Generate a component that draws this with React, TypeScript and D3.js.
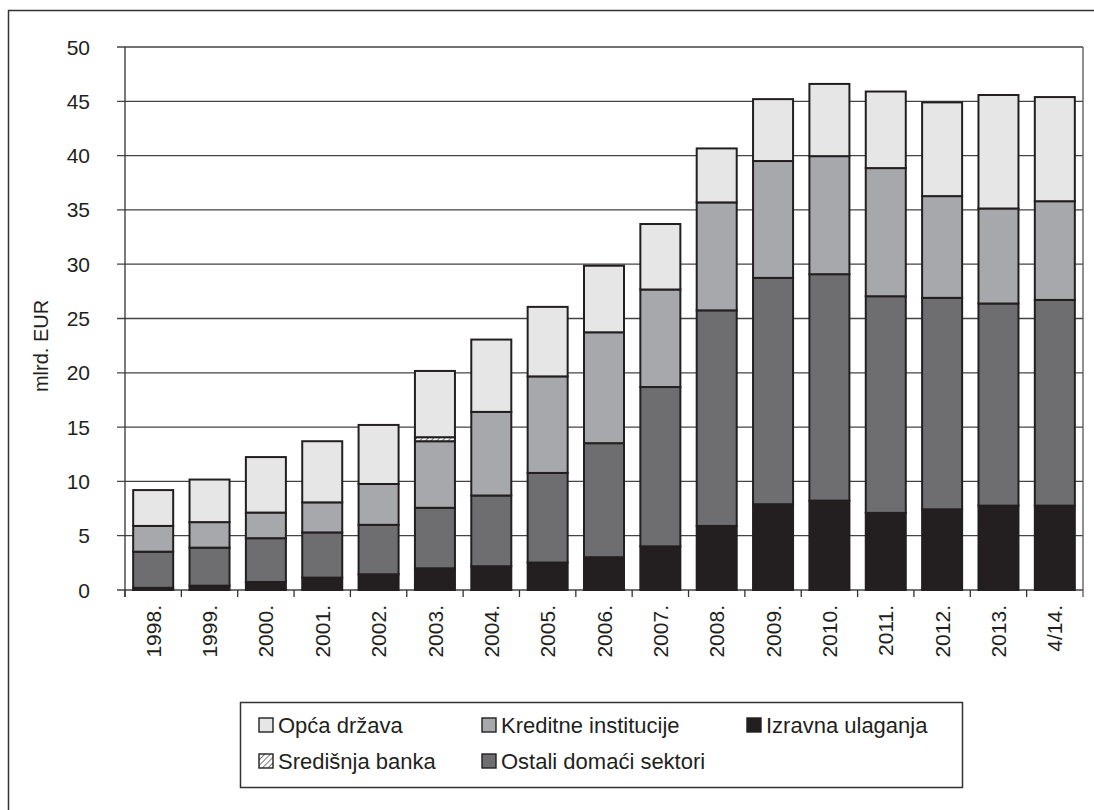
import React from "react";
import * as d3 from "d3";

const categories = ["1998.", "1999.", "2000.", "2001.", "2002.", "2003.", "2004.", "2005.", "2006.", "2007.", "2008.", "2009.", "2010.", "2011.", "2012.", "2013.", "4/14."];
const izravnaUlaganja = [0.2, 0.4, 0.74, 1.14, 1.45, 2.0, 2.19, 2.53, 3.02, 4.02, 5.9, 7.9, 8.23, 7.1, 7.43, 7.77, 7.77];
const ostaliDomaci = [3.33, 3.5, 4.03, 4.16, 4.55, 5.57, 6.51, 8.25, 10.5, 14.67, 19.85, 20.84, 20.85, 19.95, 19.47, 18.61, 18.94];
const kreditneInstitucije = [2.37, 2.35, 2.36, 2.77, 3.76, 6.13, 7.7, 8.89, 10.21, 8.98, 9.94, 10.76, 10.87, 11.8, 9.37, 8.75, 9.09];
const sredisnjaBanka = [0, 0, 0, 0, 0, 0.37, 0, 0, 0, 0, 0, 0, 0, 0, 0, 0, 0];
const opcaDrzava = [3.3, 3.92, 5.11, 5.63, 5.44, 6.1, 6.66, 6.4, 6.13, 6.03, 4.97, 5.7, 6.65, 7.05, 8.63, 10.45, 9.59];
const yTicks = [0, 5, 10, 15, 20, 25, 30, 35, 40, 45, 50];

const seriesKeys = ["izravna", "ostali", "kreditne", "sredisnja", "opca"];
const seriesFill: Record<string, string> = {
  izravna: "#231f20",
  ostali: "#6e6e70",
  kreditne: "#a7a8ab",
  sredisnja: "url(#hatch)",
  opca: "#e6e6e6",
};

const legendItems = [
  { key: "opca", label: "Opća država", x: 259, row: 0 },
  { key: "kreditne", label: "Kreditne institucije", x: 482, row: 0 },
  { key: "izravna", label: "Izravna ulaganja", x: 747, row: 0 },
  { key: "sredisnja", label: "Središnja banka", x: 259, row: 1 },
  { key: "ostali", label: "Ostali domaći sektori", x: 482, row: 1 },
];

export default function App() {
  const left = 125, right = 1083, top = 47, bottom = 590;
  const rows = categories.map((c, i) => ({
    cat: c,
    izravna: izravnaUlaganja[i],
    ostali: ostaliDomaci[i],
    kreditne: kreditneInstitucije[i],
    sredisnja: sredisnjaBanka[i],
    opca: opcaDrzava[i],
  }));
  const stack = d3.stack<any>().keys(seriesKeys);
  const stacked = stack(rows);
  const x = d3.scaleBand<string>().domain(categories).range([left, right]).paddingInner(0.29).paddingOuter(0.145);
  const y = d3.scaleLinear().domain([0, 50]).range([bottom, top]);
  const step = (right - left) / categories.length;
  const font = "'Liberation Sans', Arial, sans-serif";

  return (
    <svg width={1094} height={810} style={{ position: "absolute", left: 0, top: 0, background: "#fff" }}>
      <defs>
        <pattern id="hatch" patternUnits="userSpaceOnUse" width={4} height={4} patternTransform="rotate(45)">
          <rect width={4} height={4} fill="#fff" />
          <line x1={0} y1={0} x2={0} y2={4} stroke="#231f20" strokeWidth={1.2} />
        </pattern>
      </defs>
      {/* outer frame */}
      <line x1={8} y1={10.5} x2={1094} y2={10.5} stroke="#333" strokeWidth={1.5} />
      <line x1={8.5} y1={10} x2={8.5} y2={810} stroke="#333" strokeWidth={1.5} />

      {/* gridlines */}
      {yTicks.map((t) => (
        <line key={t} x1={left - 8} x2={right} y1={y(t)} y2={y(t)} stroke="#444" strokeWidth={1.3} />
      ))}
      <line x1={right} x2={right} y1={top} y2={bottom + 7} stroke="#555" strokeWidth={1.3} />
      <line x1={left} x2={left} y1={top} y2={bottom + 7} stroke="#333" strokeWidth={1.3} />
      {categories.map((c, i) => (
        <line key={c} x1={left + step * i} x2={left + step * i} y1={bottom} y2={bottom + 7} stroke="#333" strokeWidth={1.3} />
      ))}

      {/* bars */}
      {stacked.map((s) => (
        <g key={s.key}>
          {s.map((d, i) => {
            const h = y(d[0]) - y(d[1]);
            if (h <= 0) return null;
            return (
              <rect
                key={i}
                x={x(categories[i])}
                y={y(d[1])}
                width={x.bandwidth()}
                height={h}
                fill={seriesFill[s.key]}
                stroke="#231f20"
                strokeWidth={2}
              />
            );
          })}
        </g>
      ))}

      {/* y tick labels */}
      {yTicks.map((t) => (
        <text key={t} x={90} y={y(t)} dy="0.36em" textAnchor="end" fontFamily={font} fontSize={21} fill="#231f20">
          {t}
        </text>
      ))}
      <text transform={`translate(48,346) rotate(-90)`} textAnchor="middle" fontFamily={font} fontSize={20} fill="#231f20">
        mlrd. EUR
      </text>

      {/* x tick labels */}
      {categories.map((c) => (
        <text
          key={c}
          transform={`translate(${(x(c) as number) + x.bandwidth() / 2},605) rotate(-90)`}
          dy="0.36em"
          textAnchor="end"
          fontFamily={font}
          fontSize={21}
          fill="#231f20"
        >
          {c}
        </text>
      ))}

      {/* legend */}
      <rect x={240.5} y={702.5} width={722} height={85} fill="#fff" stroke="#333" strokeWidth={1.5} />
      {legendItems.map((it) => {
        const yy = it.row === 0 ? 733 : 769;
        return (
          <g key={it.key}>
            <rect x={it.x} y={yy - 15} width={14} height={14} fill={seriesFill[it.key]} stroke="#231f20" strokeWidth={1.4} />
            <text x={it.x + 19} y={yy} fontFamily={font} fontSize={22} fill="#231f20">
              {it.label}
            </text>
          </g>
        );
      })}
    </svg>
  );
}
